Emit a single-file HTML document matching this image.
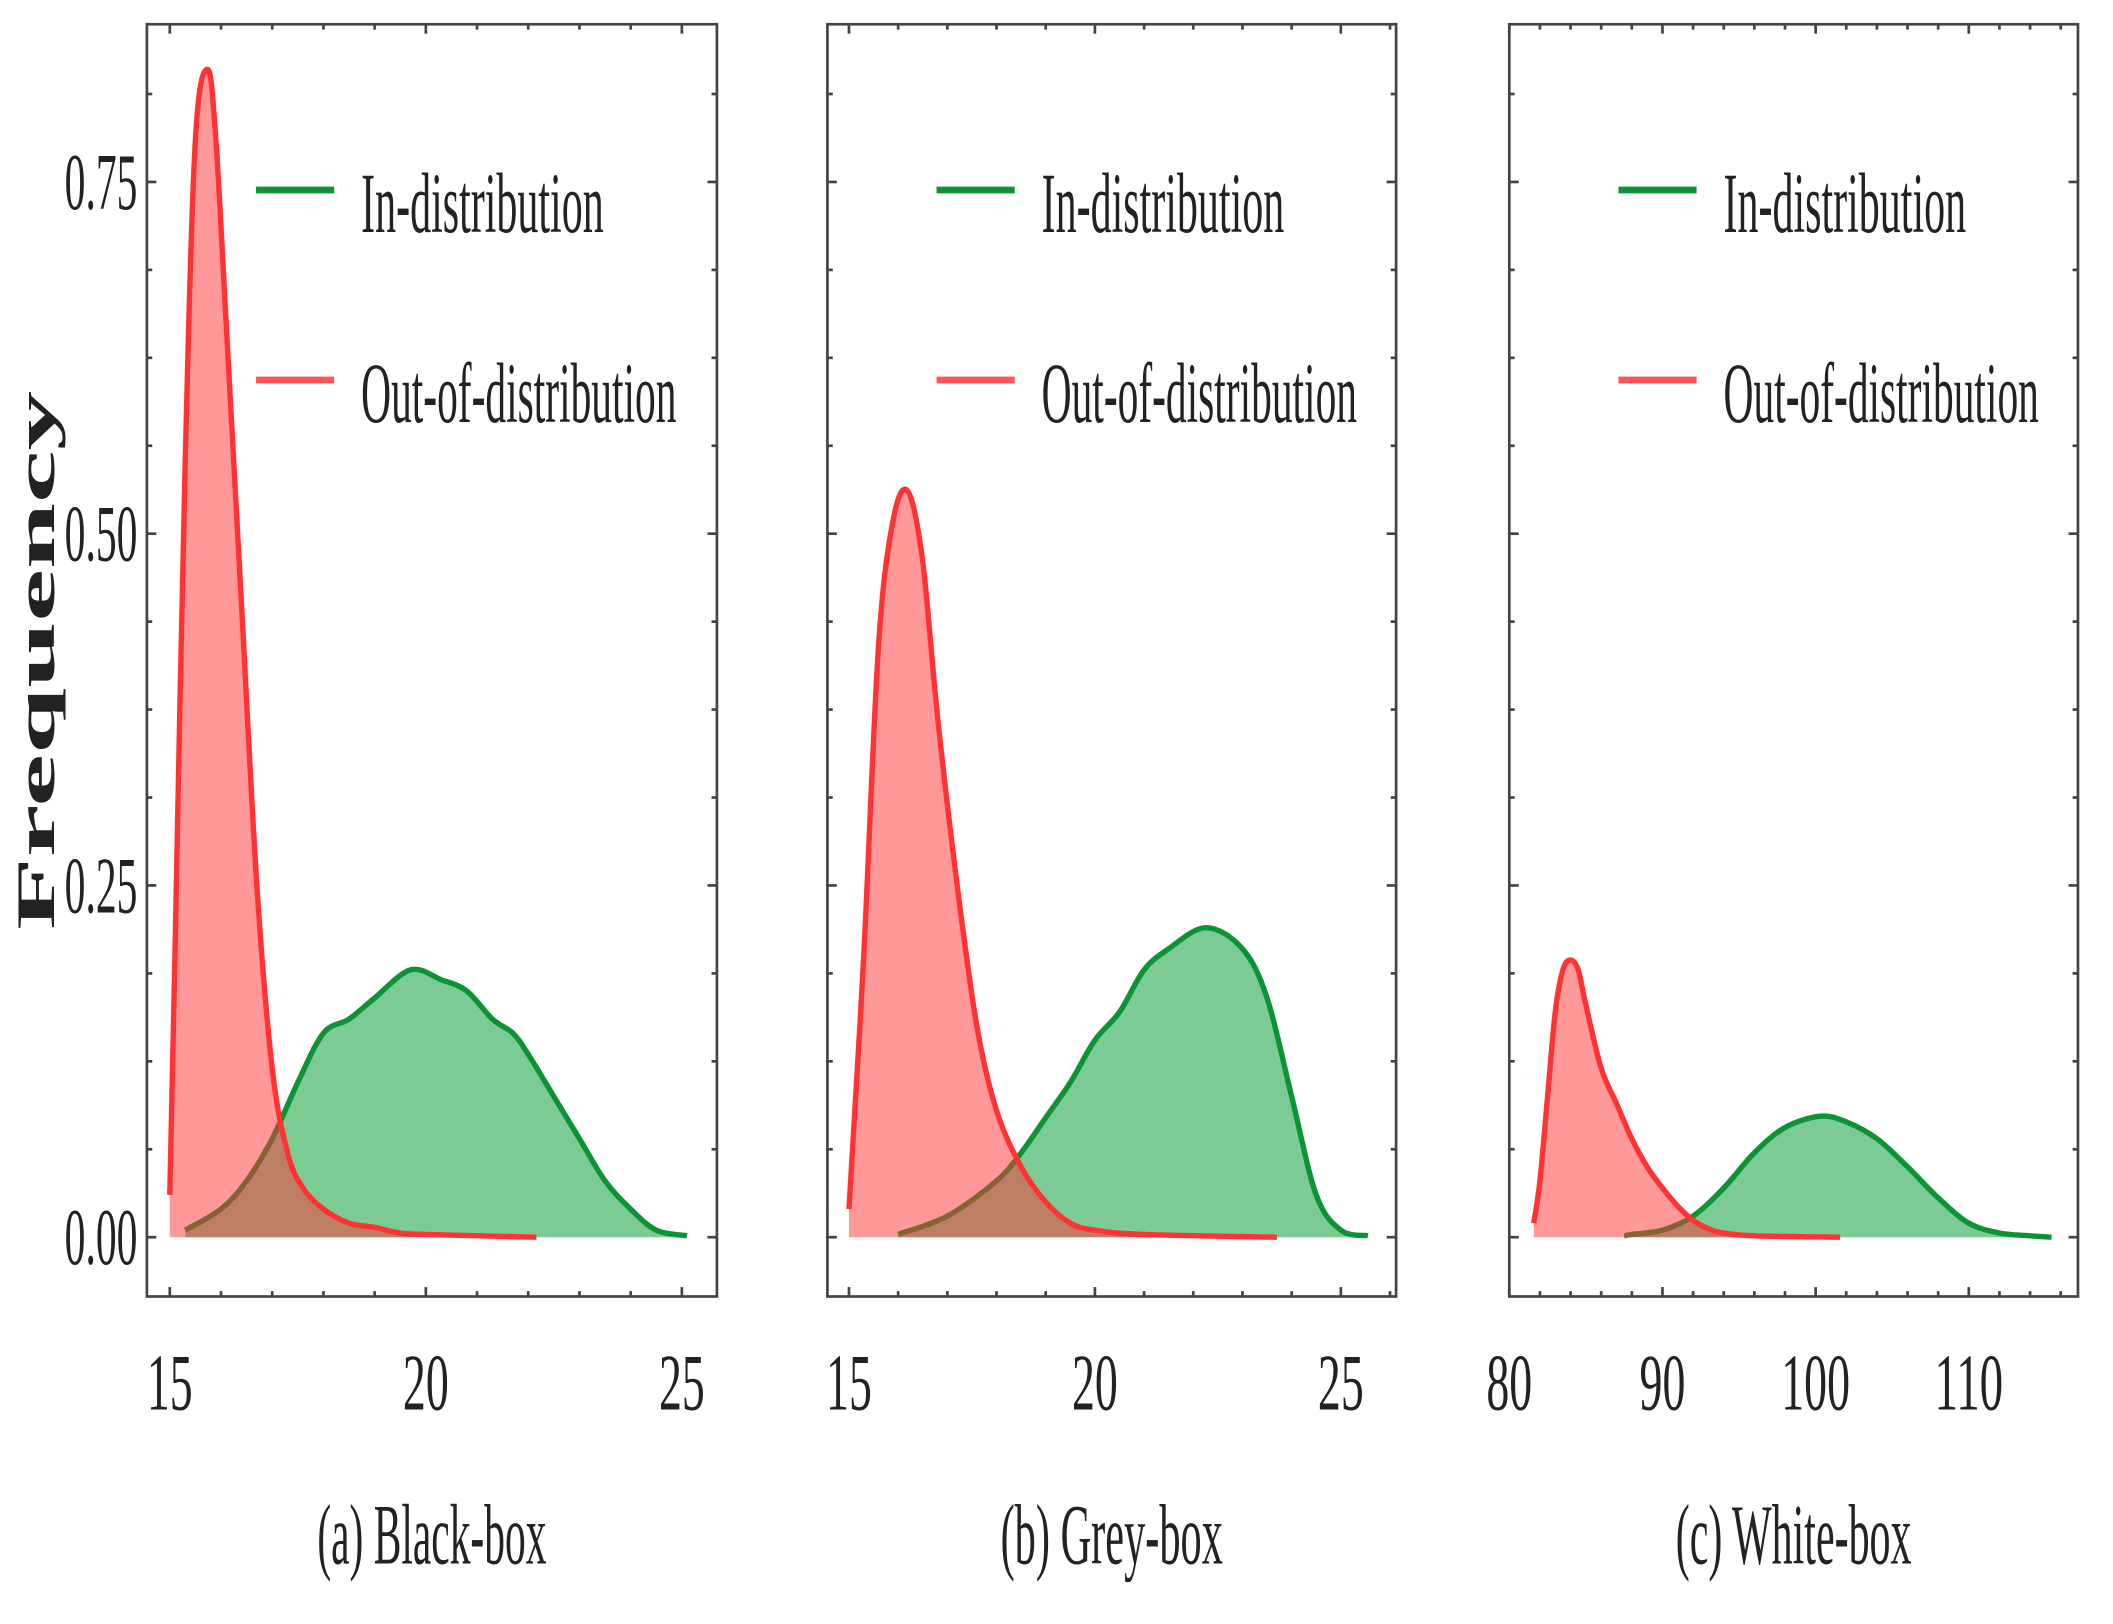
<!DOCTYPE html>
<html><head><meta charset="utf-8"><style>
html,body{margin:0;padding:0;background:#fff;}
svg{display:block;}
text{font-family:"Liberation Serif",serif;fill:#222;}
</style></head><body>
<svg id="chart" xmlns="http://www.w3.org/2000/svg" width="2113" height="1624" viewBox="0 0 1568 1205" preserveAspectRatio="none">
<text x="0" y="0" transform="translate(40,490) rotate(-90)" text-anchor="middle" font-size="40" font-weight="bold" textLength="400" lengthAdjust="spacingAndGlyphs">Frequency</text>
</svg>
<script>
// ---- data ----
const yTicks = [0, 0.25, 0.5, 0.75];
const yTickLabels = ["0.00", "0.25", "0.50", "0.75"];
const panelTitles = ["(a) Black-box", "(b) Grey-box", "(c) White-box"];
const xTicksA = [15, 20, 25];
const xTicksB = [15, 20, 25];
const xTicksC = [80, 90, 100, 110];
const inA_x = [15.3,16,16.5,17,17.5,18,18.5,19,19.7,20.3,20.8,21.3,21.7,22,22.5,23,23.5,24,24.5,25.1];
const inA_y = [0.005,0.02,0.04,0.07,0.11,0.145,0.155,0.17,0.19,0.183,0.175,0.155,0.145,0.13,0.1,0.07,0.04,0.02,0.005,0.001];
const outA_x = [15.0,15.1,15.3,15.5,15.74,15.9,16.1,16.4,16.7,17.0,17.3,17.6,18.0,18.5,19,19.5,20,22.16];
const outA_y = [0.03,0.2,0.55,0.78,0.83,0.78,0.65,0.45,0.25,0.12,0.06,0.035,0.02,0.01,0.007,0.003,0.002,0];
const inB_x = [16,17,18,18.5,19,19.5,20,20.5,21,21.5,22.26,23,23.5,24,24.5,25,25.55];
const inB_y = [0.002,0.015,0.04,0.06,0.085,0.11,0.14,0.16,0.19,0.205,0.22,0.205,0.17,0.1,0.03,0.005,0.001];
const outB_x = [15,15.3,15.6,15.9,16.2,16.5,16.8,17.2,17.6,18,18.5,19,19.5,20,21,23.7];
const outB_y = [0.02,0.2,0.42,0.51,0.53,0.48,0.37,0.25,0.15,0.09,0.05,0.025,0.01,0.005,0.002,0];
const inC_x = [87.5,88,90,92,94,96,98,100.3,102,104,106,108,110,112,114,115.4];
const inC_y = [0.001,0.002,0.005,0.015,0.035,0.06,0.078,0.086,0.082,0.07,0.05,0.028,0.01,0.003,0.001,0];
const outC_x = [81.6,82,82.5,83,83.5,84,84.5,85,86,87,88,89,90,91,92,93,94,96,101.6];
const outC_y = [0.01,0.04,0.1,0.16,0.19,0.197,0.19,0.165,0.12,0.095,0.07,0.05,0.035,0.022,0.012,0.006,0.003,0.001,0];

const NS = "http://www.w3.org/2000/svg";
const svg = document.getElementById('chart');
function mk(tag, attrs, parent){const e=document.createElementNS(NS,tag);for(const k in attrs)e.setAttribute(k,attrs[k]);(parent||svg).appendChild(e);return e;}

const panels = [
 {left:109,right:532,x0:15,x1:25,px0:126,px1:506,xt:xTicksA,minor:1,inx:inA_x,iny:inA_y,ox:outA_x,oy:outA_y,cap:panelTitles[0],capW:170,name:'black-box'},
 {left:614,right:1036,x0:15,x1:25,px0:630,px1:995,xt:xTicksB,minor:1,inx:inB_x,iny:inB_y,ox:outB_x,oy:outB_y,cap:panelTitles[1],capW:165,name:'grey-box'},
 {left:1120,right:1542,x0:80,x1:110,px0:1120,px1:1461,xt:xTicksC,minor:2,inx:inC_x,iny:inC_y,ox:outC_x,oy:outC_y,cap:panelTitles[2],capW:175,name:'white-box'}
];
const plotTop=18,plotBottom=962;
function yS(v){return 918 - v*1044;}
function smooth(pts){
  let d='';
  for(let i=0;i<pts.length-1;i++){
    const p0=pts[Math.max(0,i-1)],p1=pts[i],p2=pts[i+1],p3=pts[Math.min(pts.length-1,i+2)];
    const c1x=p1[0]+(p2[0]-p0[0])/6,c1y=p1[1]+(p2[1]-p0[1])/6;
    const c2x=p2[0]-(p3[0]-p1[0])/6,c2y=p2[1]-(p3[1]-p1[1])/6;
    d+=' C'+c1x+','+Math.min(c1y,918)+' '+c2x+','+Math.min(c2y,918)+' '+p2[0]+','+p2[1];
  }
  return d;
}

panels.forEach((p,i)=>{
  const g = mk('g',{});
  
  
  const xS = v => p.px0 + (v-p.x0)*(p.px1-p.px0)/(p.x1-p.x0);
  function area(xs,ys,fill,stroke,nm){
    const pts=xs.map((x,j)=>[xS(x),yS(ys[j])]);
    const curve=smooth(pts);
    const d='M'+pts[0][0]+','+yS(0)+' L'+pts[0][0]+','+pts[0][1]+curve+' L'+pts[pts.length-1][0]+','+yS(0)+' Z';
    const a=mk('path',{d:d,fill:fill,stroke:'none'},g);
    
    
    const ln=mk('path',{d:'M'+pts[0][0]+','+pts[0][1]+curve,fill:'none',stroke:stroke,'stroke-width':4,'stroke-linejoin':'round'},g);
    
    
  }
  area(p.inx,p.iny,'rgba(30,165,70,0.58)','#0a9433','in-distribution');
  area(p.ox,p.oy,'rgba(255,50,50,0.5)','#ff3333','out-of-distribution');
  const fr=mk('rect',{x:p.left,y:plotTop,width:p.right-p.left,height:plotBottom-plotTop,fill:'none',stroke:'#444','stroke-width':2},g);
  
  
  for(let v=0; v<=0.86; v+=0.0625){
    const y=yS(v), len=(Math.abs(v/0.25-Math.round(v/0.25))<1e-6)?7:4;
    mk('line',{x1:p.left,x2:p.left+len,y1:y,y2:y,stroke:'#444','stroke-width':2},g);
    mk('line',{x1:p.right,x2:p.right-len,y1:y,y2:y,stroke:'#444','stroke-width':2},g);
  }
  for(let v=p.x0; xS(v)<=p.right; v+=p.minor){
    const x=xS(v); if(x<p.left) continue;
    const major=p.xt.indexOf(v)>=0, len=major?7:4;
    mk('line',{x1:x,x2:x,y1:plotBottom,y2:plotBottom-len,stroke:'#444','stroke-width':2},g);
    mk('line',{x1:x,x2:x,y1:plotTop,y2:plotTop+len,stroke:'#444','stroke-width':2},g);
  }
  p.xt.forEach(v=>{
    const t=mk('text',{x:xS(v),y:1046,'text-anchor':'middle','font-size':60,textLength:String(v).length*17,lengthAdjust:'spacingAndGlyphs'},g);
    t.textContent=v;
    
    
  });
  if(i===0){
    yTicks.forEach((v,j)=>{
      const t=mk('text',{x:102,y:yS(v)+20,'text-anchor':'end','font-size':60,textLength:54,lengthAdjust:'spacingAndGlyphs'},g);
      t.textContent=yTickLabels[j];
      
      
    });
  }
  const lx=p.left+81;
  const l1=mk('line',{x1:lx,x2:lx+58,y1:141,y2:141,stroke:'#0a9433','stroke-width':5},g);
  
  
  const l2=mk('line',{x1:lx,x2:lx+58,y1:282,y2:282,stroke:'#ff5555','stroke-width':5},g);
  
  
  const t1=mk('text',{x:lx+78,y:172,'font-size':64,textLength:180,lengthAdjust:'spacingAndGlyphs'},g);
  t1.textContent='In-distribution';
  
  
  const t2=mk('text',{x:lx+78,y:313,'font-size':64,textLength:234,lengthAdjust:'spacingAndGlyphs'},g);
  t2.textContent='Out-of-distribution';
  
  
  const c=mk('text',{x:(p.left+p.right)/2,y:1160,'text-anchor':'middle','font-size':64,textLength:p.capW,lengthAdjust:'spacingAndGlyphs'},g);
  c.textContent=p.cap;
  
  
});
</script>
</body></html>
